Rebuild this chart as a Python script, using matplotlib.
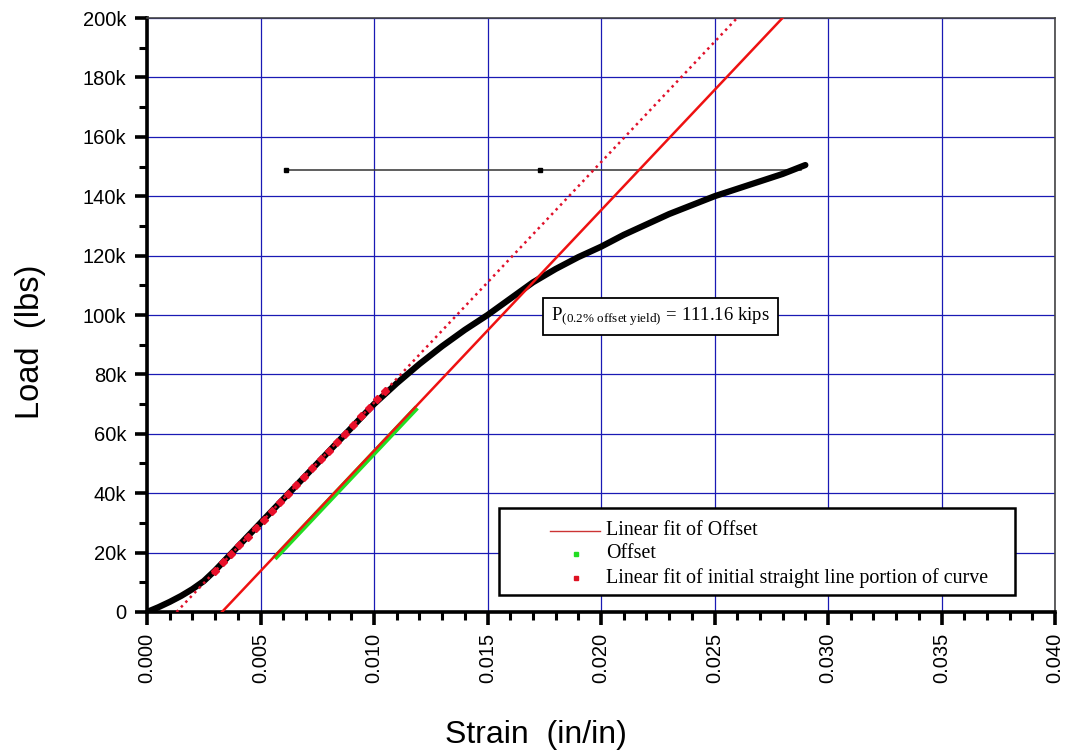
import numpy as np
import matplotlib
matplotlib.use('Agg')
import matplotlib.pyplot as plt
from matplotlib.ticker import MultipleLocator, FuncFormatter
from matplotlib.patches import Rectangle

# load-strain curve
strain = [0.0, 0.0005, 0.001, 0.0015, 0.002, 0.0025, 0.003, 0.0035, 0.004, 0.0045, 0.005, 0.006,
          0.007, 0.008, 0.009, 0.010, 0.011, 0.012, 0.013, 0.014, 0.015, 0.016,
          0.017, 0.018, 0.019, 0.020, 0.021, 0.022, 0.023, 0.024, 0.025,
          0.026, 0.027, 0.028, 0.0285, 0.029]
load = [0, 1600, 3400, 5400, 7700, 10400, 14000, 18000, 22000, 26000, 30000, 38000,
        46000, 54000, 62000, 70000, 77000, 83500, 89500, 95000, 100000, 105500,
        111000, 115500, 119500, 123000, 127000, 130500, 134000, 137000, 140000,
        142500, 145000, 147500, 149000, 150500]

# offset points (green)
offset_strain = [0.0057, 0.0118]
# linear fits
slope = 8.1e6
fit_x0 = 0.0013      # intercept of initial straight line fit
offset_x0 = 0.0033   # intercept of 0.2% offset line
init_fit_range = [0.003, 0.0105]

# horizontal marker line at peak
peak_load = 149000
peak_line_x = [0.0061, 0.0173, 0.0288]

yield_text = r'P$_{\mathregular{(0.2\%\ offset\ yield)}}$ = 111.16 kips'
legend_labels = ['Linear fit of Offset', 'Offset',
                 'Linear fit of initial straight line portion of curve']

plt.rcParams['mathtext.fontset'] = 'stix'

fig = plt.figure(figsize=(10.67, 7.52), dpi=100)
ax = fig.add_axes([0.1378, 0.1862, 0.851, 0.7898])

grid_color = '#1a1ab4'
ax.set_xlim(0, 0.040)
ax.set_ylim(0, 200000)
ax.xaxis.set_major_locator(MultipleLocator(0.005))
ax.xaxis.set_minor_locator(MultipleLocator(0.001))
ax.yaxis.set_major_locator(MultipleLocator(20000))
ax.yaxis.set_minor_locator(MultipleLocator(10000))
ax.yaxis.set_major_formatter(FuncFormatter(lambda v, p: '0' if v == 0 else f'{int(v / 1000)}k'))
ax.xaxis.set_major_formatter(FuncFormatter(lambda v, p: f'{v:.3f}'))
ax.grid(True, which='major', color=grid_color, linewidth=0.9, zorder=0)
ax.set_axisbelow(True)

for side in ['left', 'bottom']:
    ax.spines[side].set_linewidth(2.6)
for side in ['top', 'right']:
    ax.spines[side].set_linewidth(1.2)
    ax.spines[side].set_color('#444444')

ax.tick_params(which='major', direction='out', length=9, width=2.6, labelsize=14.5,
               pad=6, top=False, right=False)
ax.tick_params(which='minor', direction='out', length=6, width=2.2, top=False, right=False)
ax.tick_params(axis='x', labelrotation=90)
for lab in ax.get_xticklabels() + ax.get_yticklabels():
    lab.set_family('Liberation Sans')

# peak line
ax.plot([peak_line_x[0], peak_line_x[2]], [peak_load, peak_load], color='#333333', lw=1.1, zorder=3)
ax.plot(peak_line_x[:2], [peak_load, peak_load], 's', color='black', ms=3.5, zorder=4)

# black curve
ax.plot(strain, load, color='black', lw=4.5, solid_capstyle='round', zorder=5)

# initial straight line fit (dotted red)
fx = np.array([fit_x0, 200000 / slope + fit_x0])
ax.plot(fx, slope * (fx - fit_x0), color='#e0102a', lw=1.8, ls=(0, (1, 1.6)), zorder=6)
px = np.linspace(init_fit_range[0], init_fit_range[1], 22)
ax.plot(px, slope * (px - fit_x0), 'D', color='#e8102a', ms=4, zorder=6)

# offset points (green) and their linear fit (red)
ox = np.linspace(offset_strain[0], offset_strain[1], 60)
ax.plot(ox, slope * (ox - offset_x0) - 700, color='#22dd22', lw=4, zorder=6)
lx = np.array([offset_x0, 200000 / slope + offset_x0])
ax.plot(lx, slope * (lx - offset_x0), color='#ee1111', lw=1.8, zorder=7)

# annotation
ax.text(0.01781, 99500, yield_text, family='Liberation Serif', fontsize=13.5, va='center',
        bbox=dict(boxstyle='square,pad=0.42', fc='white', ec='black', lw=1.3), zorder=8)

# legend box, laid out like the original
def axx(p):
    return (p - 147) / 908.0

def axy(p):
    return (612 - p) / 594.0

box = Rectangle((axx(499), axy(595)), axx(1015) - axx(499), axy(508) - axy(595),
                transform=ax.transAxes, fc='white', ec='black', lw=1.8, zorder=9)
ax.add_patch(box)
rows = [531, 554, 578]
ax.plot([axx(550), axx(600)], [axy(rows[0])] * 2, transform=ax.transAxes,
        color='#cc3333', lw=1, zorder=10)
ax.plot([axx(576)], [axy(rows[1])], 's', transform=ax.transAxes, color='#22dd22', ms=3.2, zorder=10)
ax.plot([axx(576)], [axy(rows[2])], 's', transform=ax.transAxes, color='#dd1122', ms=3.2, zorder=10)
for r, lab in zip(rows, legend_labels):
    ax.text(axx(606), axy(r), lab, transform=ax.transAxes, family='Liberation Serif',
            fontsize=14.4, va='center', ha='left', zorder=10)

ax.set_xlabel('Strain  (in/in)', family='Liberation Sans', fontsize=23, va='center')
ax.xaxis.set_label_coords(0.428, axy(735))
ax.set_ylabel('Load  (lbs)', family='Liberation Sans', fontsize=23.5, va='center')
ax.yaxis.set_label_coords(axx(30), axy(342))

fig.savefig('out.png', dpi=100)
